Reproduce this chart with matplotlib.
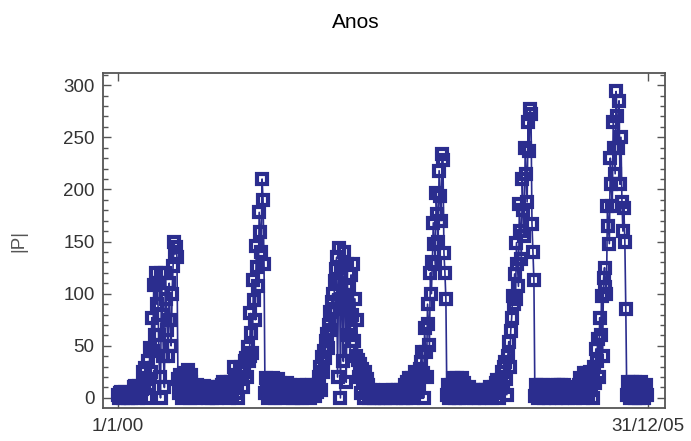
import numpy as np
import pandas as pd
import matplotlib
matplotlib.use('Agg')
import matplotlib.pyplot as plt
import matplotlib.dates as mdates
from matplotlib.ticker import MultipleLocator

# |P| sampled every 4 days, one list per year
p_2000 = [3, 0, 5, 6, 2, 0, 4, 6, 1, 3,
          0, 3, 2, 0, 3, 1,
          5, 10, 11, 4, 8, 0, 11, 6, 2, 9,
          25, 10, 29, 18, 0, 35, 12, 48, 25,
          77, 45, 108, 60, 120, 90,
          110, 60, 20, 0, 120, 80, 40, 10,
          120, 95, 65, 40, 110, 75, 50, 100,
          127, 150, 138, 145, 135,
          18, 5, 22, 10, 0, 17,
          24, 12, 3, 20, 27, 8, 0, 15, 22, 6,
          10, 2, 8, 0, 12, 5, 9, 3, 10, 1, 7, 11, 4, 8]
p_2001 = [5, 0, 8, 10, 3, 0, 6, 10, 2, 7, 0, 9, 4, 10, 1, 6, 12,
          15, 8, 2, 12, 15, 6, 0, 10, 15, 4, 14,
          30, 22, 14, 5, 0, 18, 28, 30, 20, 10, 25, 35, 38, 20,
          49, 35, 40, 81, 62, 43, 113, 94, 75, 146, 126, 107, 178, 159, 140, 210, 190, 128,
          5, 19, 12, 0, 8, 17, 3, 10, 19, 6, 0, 14, 9, 18, 2, 12,
          14, 5, 0, 10, 13, 3, 8, 14, 1, 6, 12, 4,
          6, 0, 4]
p_2002 = [6, 0, 10, 4, 12, 2, 8, 0, 11, 5, 9, 1, 12, 6, 3, 10, 0, 7, 12, 4, 9, 2, 11, 6, 12,
          20, 30, 8, 39, 25, 45, 38, 55, 61, 48, 70, 82, 65, 92, 100, 85, 112, 124,
          135, 20, 110, 144, 0, 125, 95, 35, 140, 88, 15, 128, 60, 105, 45, 118, 80, 128, 55, 95,
          40, 75, 36, 20, 33, 5, 28, 15, 0, 25, 10, 18, 8,
          12, 0, 8, 5, 2, 8, 0, 5, 3, 6, 0, 5, 2, 4, 0]
p_2003 = [3, 6, 0, 8, 4, 1, 7, 3, 0, 5, 8, 2, 6, 0, 4, 8, 3, 6, 1, 8, 5, 0, 7,
          12, 0, 15, 8, 19, 4, 14, 19, 0, 10, 25, 18, 6, 22, 12, 28, 34,
          44, 24, 0, 67, 44, 20, 90, 71, 51, 120, 100, 130, 168, 148, 128, 197, 176, 150, 218, 194, 170,
          234, 228, 139, 120, 95,
          3, 12, 0, 8, 12, 2, 19, 10, 0, 15, 19, 6, 12, 0, 17, 8, 19, 3, 14, 10, 0, 8, 4, 10, 2, 7]
p_2004 = [4, 8, 0, 6, 2, 8, 5, 0, 7, 3, 8, 1, 6, 0, 8, 4, 7, 2, 8,
          10, 3, 0, 8, 10, 5, 14, 17, 8, 0, 12, 17, 25, 10, 30, 34, 18, 3, 40, 54, 30, 64, 77,
          98, 90, 119, 95, 149, 128, 107, 186, 160, 133, 210, 180, 155, 240, 215, 188, 265, 237, 277,
          272, 167, 140, 113,
          2, 12, 5, 0, 10, 12, 3, 8, 12, 0, 6, 11, 8, 2, 8, 0, 6, 8, 3, 7, 12, 5, 0, 8, 12, 4]
p_2005 = [5, 12, 0, 8, 12, 3, 10, 6, 0, 8, 4, 7, 1, 8, 3, 0, 6, 8, 2, 8,
          12, 19, 5, 15, 0, 24, 10, 19, 24, 4, 16, 25, 8, 20, 0, 30, 14, 47, 35, 57, 20, 77, 60, 98, 40, 115,
          125, 106, 100, 184, 165, 148, 230, 205, 184, 265, 240, 215, 294, 270, 240, 285, 205, 250, 188, 160, 182, 150,
          85, 3, 15, 8, 0, 12, 15, 5, 10, 0, 15, 8, 3, 12, 0, 9, 15, 4, 10, 0, 8, 12, 3]

x_ticks = ['2000-01-01', '2005-12-31']
x_tick_labels = ['1/1/00', '31/12/05']

values = np.array(p_2000 + p_2001 + p_2002 + p_2003 + p_2004 + p_2005, dtype=float)
dates = pd.date_range('2000-01-01', periods=len(values), freq='4D')
xnum = mdates.date2num(dates.to_pydatetime())

navy = '#2b2d8e'
frame = '#555555'
text_gray = '#333333'

plt.rcParams['font.family'] = ['Liberation Sans', 'DejaVu Sans']

fig = plt.figure(figsize=(6.91, 4.41), dpi=100)
ax = fig.add_axes([0.149, 0.075, 0.813, 0.759])

ax.plot(xnum, values, color=navy, linewidth=1.2, marker='s', markersize=6.6,
        markerfacecolor='none', markeredgecolor=navy, markeredgewidth=3.0)

start = mdates.date2num(pd.Timestamp(x_ticks[0]).to_pydatetime())
end = mdates.date2num(pd.Timestamp(x_ticks[1]).to_pydatetime())
ax.set_xlim(start - 62, end + 70)
ax.set_ylim(-9.6, 311.5)

ax.set_xticks([start, end])
ax.set_xticklabels(x_tick_labels)
ax.yaxis.set_major_locator(MultipleLocator(50))
ax.yaxis.set_minor_locator(MultipleLocator(10))

ax.tick_params(axis='both', which='both', direction='in', top=True, right=True,
               color=frame, width=1.0, labelcolor=text_gray, labelsize=13.5)
ax.tick_params(axis='both', which='major', length=6)
ax.tick_params(axis='y', which='minor', length=3.5)
ax.tick_params(axis='y', which='major', pad=6)
ax.tick_params(axis='x', which='major', pad=7)

for side in ax.spines.values():
    side.set_color(frame)
    side.set_linewidth(1.3)

ax.set_ylabel('|P|', color='#555555', fontsize=13.5)
ax.yaxis.set_label_coords(-0.135, 0.5)

fig.text(0.515, 1 - 22 / 441, 'Anos', ha='center', va='center', fontsize=15, color='black')

fig.savefig('out.png', dpi=100)
